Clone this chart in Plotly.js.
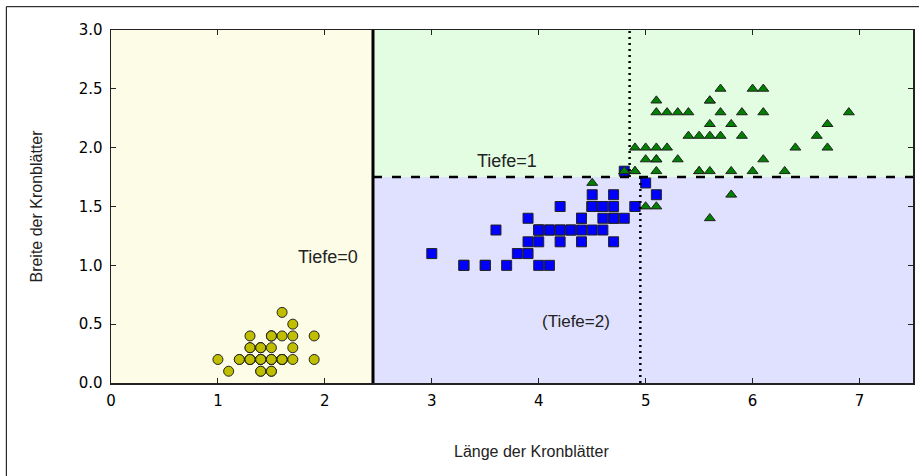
<!DOCTYPE html>
<html>
<head>
<meta charset="utf-8">
<script src="https://cdn.plot.ly/plotly-3.0.1.min.js"></script>
<style>
  html, body { margin: 0; padding: 0; background: #fff; }
  #chart { width: 919px; height: 476px; }
</style>
</head>
<body>
<div id="chart"></div>
<script>
// Iris petal measurements (length, width) per class
const setosaLength = [1.4,1.4,1.3,1.5,1.4,1.7,1.4,1.5,1.4,1.5,1.5,1.6,1.4,1.1,1.2,1.5,1.3,1.4,1.7,1.5,1.7,1.5,1.0,1.7,1.9,1.6,1.6,1.5,1.4,1.6,1.6,1.5,1.5,1.4,1.5,1.2,1.3,1.4,1.3,1.5,1.3,1.3,1.3,1.6,1.9,1.4,1.6,1.4,1.5,1.4];
const setosaWidth  = [0.2,0.2,0.2,0.2,0.2,0.4,0.3,0.2,0.2,0.1,0.2,0.2,0.1,0.1,0.2,0.4,0.4,0.3,0.3,0.3,0.2,0.4,0.2,0.5,0.2,0.2,0.4,0.2,0.2,0.2,0.2,0.4,0.1,0.2,0.2,0.2,0.2,0.1,0.2,0.2,0.3,0.3,0.2,0.6,0.4,0.3,0.2,0.2,0.2,0.2];
const versicolorLength = [4.7,4.5,4.9,4.0,4.6,4.5,4.7,3.3,4.6,3.9,3.5,4.2,4.0,4.7,3.6,4.4,4.5,4.1,4.5,3.9,4.8,4.0,4.9,4.7,4.3,4.4,4.8,5.0,4.5,3.5,3.8,3.7,3.9,5.1,4.5,4.5,4.7,4.4,4.1,4.0,4.4,4.6,4.0,3.3,4.2,4.2,4.2,4.3,3.0,4.1];
const versicolorWidth  = [1.4,1.5,1.5,1.3,1.5,1.3,1.6,1.0,1.3,1.4,1.0,1.5,1.0,1.4,1.3,1.4,1.5,1.0,1.5,1.1,1.8,1.3,1.5,1.2,1.3,1.4,1.4,1.7,1.5,1.0,1.1,1.0,1.2,1.6,1.5,1.6,1.5,1.3,1.3,1.3,1.2,1.4,1.2,1.0,1.3,1.2,1.3,1.3,1.1,1.3];
const virginicaLength = [6.0,5.1,5.9,5.6,5.8,6.6,4.5,6.3,5.8,6.1,5.1,5.3,5.5,5.0,5.1,5.3,5.5,6.7,6.9,5.0,5.7,4.9,6.7,4.9,5.7,6.0,4.8,4.9,5.6,5.8,6.1,6.4,5.6,5.1,5.6,6.1,5.6,5.5,4.8,5.4,5.6,5.1,5.1,5.9,5.7,5.2,5.0,5.2,5.4,5.1];
const virginicaWidth  = [2.5,1.9,2.1,1.8,2.2,2.1,1.7,1.8,1.8,2.5,2.0,1.9,2.1,2.0,2.4,2.3,1.8,2.2,2.3,1.5,2.3,2.0,2.0,1.8,2.1,1.8,1.8,1.8,2.1,1.6,1.9,2.0,2.2,1.5,1.4,2.3,2.4,1.8,1.8,2.1,2.4,2.3,1.9,2.3,2.5,2.3,1.9,2.0,2.3,1.8];

// Decision tree thresholds
const splitDepth0 = [2.45];        // petal length
const splitDepth1 = [1.75];        // petal width
const splitDepth2 = [4.95, 4.85];  // petal length (lower, upper)

const xRange = [0, 7.5];
const yRange = [0, 3];
const xTicks = [0,1,2,3,4,5,6,7];
const yTicks = [0.0,0.5,1.0,1.5,2.0,2.5,3.0];

const depthLabels = ["Tiefe=0", "Tiefe=1", "(Tiefe=2)"];
const xTitle = "Länge der Kronblätter";
const yTitle = "Breite der Kronblätter";

const textFamily = "Liberation Sans, Arial, sans-serif";
const tickFont = {family: "DejaVu Sans, sans-serif", size: 15, color: "#000"};

const traces = [
  {x: setosaLength, y: setosaWidth, type: "scatter", mode: "markers",
   marker: {symbol: "circle", size: 10, color: "#bfbf00", line: {color: "#222", width: 1}}},
  {x: versicolorLength, y: versicolorWidth, type: "scatter", mode: "markers",
   marker: {symbol: "square", size: 10, color: "#0000ff", line: {color: "#222", width: 1}}},
  {x: virginicaLength, y: virginicaWidth, type: "scatter", mode: "markers",
   marker: {symbol: "triangle-up", size: 9.5, color: "#008000", line: {color: "#222", width: 1}}}
];

const s0 = splitDepth0[0], s1 = splitDepth1[0];
const shapes = [
  // regions
  {type: "rect", layer: "below", xref: "x", yref: "y", x0: xRange[0], x1: s0, y0: yRange[0], y1: yRange[1],
   fillcolor: "#fdfde7", line: {width: 0}},
  {type: "rect", layer: "below", xref: "x", yref: "y", x0: s0, x1: xRange[1], y0: yRange[0], y1: s1,
   fillcolor: "#e0e0ff", line: {width: 0}},
  {type: "rect", layer: "below", xref: "x", yref: "y", x0: s0, x1: xRange[1], y0: s1, y1: yRange[1],
   fillcolor: "#e2fde2", line: {width: 0}},
  // boundaries
  {type: "line", xref: "x", yref: "y", x0: s0, x1: s0, y0: yRange[0], y1: yRange[1],
   line: {color: "#000", width: 3}},
  {type: "line", xref: "x", yref: "y", x0: s0, x1: xRange[1], y0: s1, y1: s1,
   line: {color: "#000", width: 2.5, dash: "9px,10px"}},
  {type: "line", xref: "x", yref: "y", x0: splitDepth2[0], x1: splitDepth2[0], y0: yRange[0], y1: s1,
   line: {color: "#000", width: 2.5, dash: "2px,4px"}},
  {type: "line", xref: "x", yref: "y", x0: splitDepth2[1], x1: splitDepth2[1], y0: s1, y1: yRange[1],
   line: {color: "#000", width: 2.5, dash: "2px,4px"}},
  // outer figure frame (left and top edges)
  {type: "line", xref: "paper", yref: "paper", x0: -0.1305, x1: -0.1305, y0: -0.5, y1: 1.066,
   line: {color: "#000", width: 1}},
  {type: "line", xref: "paper", yref: "paper", x0: -0.1305, x1: 1.2, y0: 1.066, y1: 1.066,
   line: {color: "#000", width: 1}}
];

const annotations = [
  {text: depthLabels[0], x: 2.025, y: 1.07, xref: "x", yref: "y", showarrow: false,
   xanchor: "center", yanchor: "middle", font: {family: textFamily, size: 18, color: "#222"}},
  {text: depthLabels[1], x: 3.70, y: 1.89, xref: "x", yref: "y", showarrow: false,
   xanchor: "center", yanchor: "middle", font: {family: textFamily, size: 18, color: "#222"}},
  {text: depthLabels[2], x: 4.35, y: 0.52, xref: "x", yref: "y", showarrow: false,
   xanchor: "center", yanchor: "middle", font: {family: textFamily, size: 17, color: "#222"}},
  {text: xTitle, x: 0.524, y: -0.194, xref: "paper", yref: "paper", showarrow: false,
   xanchor: "center", yanchor: "middle", font: {family: textFamily, size: 16, color: "#222"}}
];

const axisCommon = {
  showgrid: false, zeroline: false, showline: true, linecolor: "#222", linewidth: 1.5,
  mirror: "ticks", ticks: "inside", ticklen: 5, tickwidth: 1, tickcolor: "#222",
  tickfont: tickFont, fixedrange: true
};

const layout = {
  width: 919, height: 476,
  margin: {l: 111, r: 6, t: 30, b: 93, pad: 0},
  paper_bgcolor: "#fff", plot_bgcolor: "#fff",
  showlegend: false,
  xaxis: Object.assign({}, axisCommon, {range: xRange, tickvals: xTicks, ticktext: xTicks.map(String),
    ticklabelstandoff: 3}),
  yaxis: Object.assign({}, axisCommon, {range: yRange, tickvals: yTicks, ticktext: yTicks.map(v => v.toFixed(1)),
    ticklabelstandoff: 4,
    title: {text: yTitle, font: {family: textFamily, size: 16, color: "#222"}, standoff: 32}}),
  shapes: shapes,
  annotations: annotations
};

Plotly.newPlot("chart", traces, layout, {displayModeBar: false, staticPlot: true});
</script>
</body>
</html>
